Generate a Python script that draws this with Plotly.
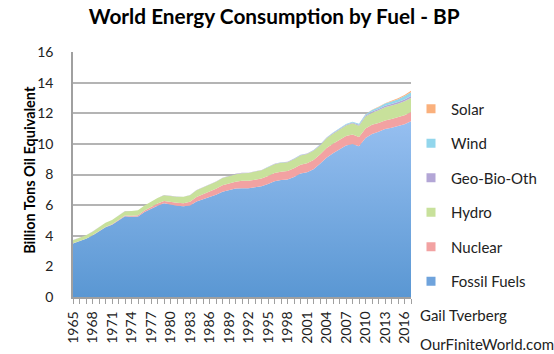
import plotly.graph_objects as go

years = list(range(1965, 2018))

fossil = [3.50, 3.65, 3.80, 4.02, 4.28, 4.56, 4.72, 4.97, 5.27, 5.24,
          5.25, 5.55, 5.76, 5.96, 6.12, 6.03, 5.96, 5.92, 5.98, 6.24,
          6.38, 6.49, 6.68, 6.88, 7.00, 7.08, 7.11, 7.11, 7.17, 7.23,
          7.38, 7.56, 7.64, 7.67, 7.84, 8.06, 8.14, 8.34, 8.70, 9.10,
          9.38, 9.62, 9.89, 10.00, 9.84, 10.38, 10.65, 10.80, 10.97, 11.05,
          11.15, 11.28, 11.48]
nuclear = [0.006, 0.008, 0.009, 0.012, 0.014, 0.018, 0.025, 0.034, 0.046, 0.060,
           0.083, 0.097, 0.120, 0.143, 0.148, 0.161, 0.190, 0.210, 0.240, 0.290,
           0.335, 0.360, 0.390, 0.420, 0.430, 0.453, 0.474, 0.480, 0.495, 0.506,
           0.526, 0.545, 0.542, 0.552, 0.571, 0.584, 0.601, 0.610, 0.599, 0.625,
           0.627, 0.635, 0.622, 0.619, 0.614, 0.626, 0.600, 0.560, 0.563, 0.575,
           0.583, 0.592, 0.596]
hydro = [0.208, 0.222, 0.228, 0.237, 0.253, 0.266, 0.276, 0.287, 0.291, 0.317,
         0.325, 0.330, 0.338, 0.363, 0.380, 0.393, 0.398, 0.410, 0.430, 0.440,
         0.446, 0.453, 0.458, 0.472, 0.473, 0.490, 0.503, 0.503, 0.530, 0.535,
         0.565, 0.570, 0.580, 0.583, 0.590, 0.600, 0.590, 0.600, 0.600, 0.636,
         0.658, 0.680, 0.690, 0.720, 0.730, 0.780, 0.790, 0.830, 0.860, 0.880,
         0.883, 0.910, 0.918]
geo_bio = [0.003, 0.003, 0.003, 0.004, 0.004, 0.004, 0.005, 0.005, 0.005, 0.006,
           0.006, 0.006, 0.007, 0.007, 0.008, 0.009, 0.010, 0.010, 0.011, 0.012,
           0.013, 0.014, 0.015, 0.017, 0.018, 0.020, 0.021, 0.022, 0.023, 0.024,
           0.025, 0.026, 0.028, 0.029, 0.031, 0.032, 0.034, 0.037, 0.040, 0.043,
           0.046, 0.050, 0.055, 0.060, 0.067, 0.075, 0.082, 0.090, 0.097, 0.105,
           0.115, 0.122, 0.130]
wind = [0.0] * 25 + [0.001, 0.001, 0.001, 0.001, 0.002,
                     0.002, 0.003, 0.003, 0.004, 0.005, 0.007, 0.009, 0.012, 0.014, 0.019,
                     0.024, 0.030, 0.039, 0.050, 0.063, 0.078, 0.098, 0.118, 0.140, 0.160,
                     0.188, 0.217, 0.253]
solar = [0.0] * 40 + [0.001, 0.001, 0.002, 0.003, 0.005, 0.0075, 0.015, 0.022, 0.030, 0.043,
                      0.055, 0.075, 0.100]

series_names = ["Fossil Fuels", "Nuclear", "Hydro", "Geo-Bio-Oth", "Wind", "Solar"]
series_values = [fossil, nuclear, hydro, geo_bio, wind, solar]
series_colors = ["#6fa3dc", "#f2a2a2", "#c8e19b", "#b3a6d6", "#92d6ec", "#fab07c"]

tick_years = list(range(1965, 2017, 3))

FONT = "Lato, Carlito, 'Liberation Sans', sans-serif"

fig = go.Figure()
for i, (name, vals, col) in enumerate(zip(series_names, series_values, series_colors)):
    tr = dict(x=years, y=vals, name=name, mode="lines", stackgroup="one",
              line=dict(width=0), fillcolor=col, showlegend=False, hoverinfo="skip")
    if i == 0:
        tr["fillgradient"] = dict(type="vertical", start=0, stop=11.5,
                                  colorscale=[[0, "#5a97d3"], [1, "#96bff0"]])
    fig.add_trace(go.Scatter(**tr))

# legend entries, top to bottom: Solar ... Fossil Fuels
for name, col in reversed(list(zip(series_names, series_colors))):
    fig.add_trace(go.Scatter(x=[None], y=[None], name=name, mode="markers",
                             legendgroup=name,
                             marker=dict(symbol="square", size=9, color=col)))

fig.update_layout(
    width=554, height=354,
    margin=dict(l=73, r=141, t=52, b=57),
    paper_bgcolor="white", plot_bgcolor="white",
    font=dict(family=FONT, size=14, color="#222222"),
    title=dict(text="<b>World Energy Consumption by Fuel - BP</b>",
               x=0.495, xanchor="center", y=1 - 17 / 354, yanchor="middle",
               font=dict(family=FONT, size=20.8, color="#000000")),
    showlegend=True,
    legend=dict(x=1.0, xanchor="left", y=0.835, yanchor="top",
                traceorder="grouped", tracegroupgap=12,
                font=dict(family=FONT, size=15, color="#222222"),
                bgcolor="rgba(0,0,0,0)"),
    xaxis=dict(range=[1965, 2017], tickvals=tick_years, automargin=False,
               ticktext=[str(y) for y in tick_years], tickangle=-90,
               ticks="outside", ticklen=5, tickcolor="#a0a0a0", ticklabelstandoff=2,
               minor=dict(dtick=1, tick0=1965, ticks="outside", ticklen=5, tickcolor="#a0a0a0"),
               showgrid=False, zeroline=False,
               showline=True, linecolor="#a0a0a0", linewidth=1.5,
               tickfont=dict(family=FONT, size=14, color="#222222")),
    yaxis=dict(range=[0, 16], dtick=2, showgrid=True, gridcolor="#b4b4b4", gridwidth=1.5,
               automargin=False,
               zeroline=False, showline=True, linecolor="#a0a0a0", linewidth=1.5,
               ticks="", ticklabelstandoff=15,
               tickfont=dict(family=FONT, size=14, color="#222222")),
    annotations=[
        dict(text="<b>Billion Tons Oil Equivalent</b>", xref="paper", yref="paper",
             x=(29 - 73) / 340, y=0.52, textangle=-90,
             xanchor="center", yanchor="middle", showarrow=False,
             font=dict(family=FONT, size=14.5, color="#000000")),
        dict(text="Gail Tverberg", xref="paper", yref="paper", x=(420 - 73) / 340,
             y=(297 - 315) / 245, xanchor="left", yanchor="middle", showarrow=False,
             font=dict(family=FONT, size=15, color="#222222")),
        dict(text="OurFiniteWorld.com", xref="paper", yref="paper", x=(420 - 73) / 340,
             y=(297 - 344) / 245, xanchor="left", yanchor="middle", showarrow=False,
             font=dict(family=FONT, size=15, color="#222222")),
    ],
)

fig.write_html("out.html")
